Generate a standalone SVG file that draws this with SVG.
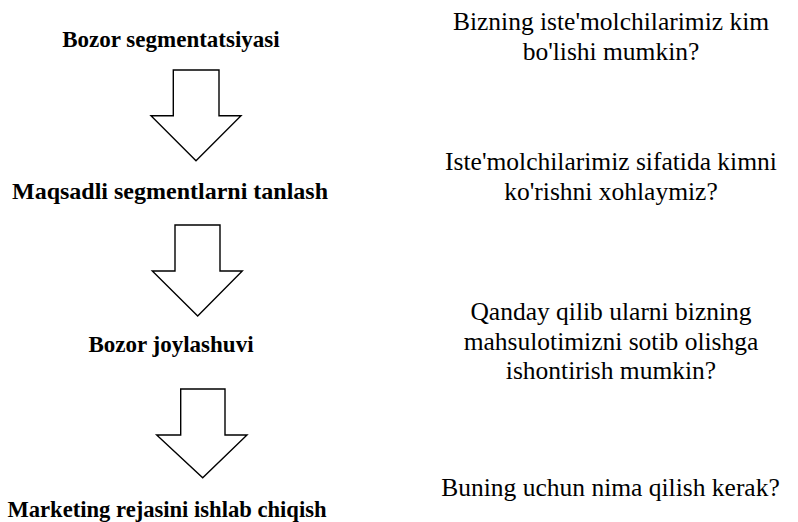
<svg xmlns="http://www.w3.org/2000/svg" width="798" height="522" viewBox="0 0 798 522">
<style>
.lbl{font-family:'Liberation Serif','Times New Roman',serif;font-weight:bold;font-size:23px;fill:#000;text-anchor:middle}
.q{font-family:'Liberation Serif','Times New Roman',serif;font-size:25.5px;fill:#000;text-anchor:middle}
.arr{fill:#fff;stroke:#000;stroke-width:1.4;stroke-linejoin:miter}
</style>
<rect width="798" height="522" fill="#fff"/>
<g id="connectors">
<polygon class="arr" points="173.3,70 219,70 219,115.7 241,115.7 196,160.7 151,115.7 173.3,115.7"/>
<polygon class="arr" points="175,225 220,225 220,271 242.3,271 197.7,316 152.3,271 175,271"/>
<polygon class="arr" points="180.7,389 225,389 225,435 247,435 202.7,477.7 156.7,435 180.7,435"/>
</g>
<g id="node-segmentation"><text class="lbl" x="171" y="47">Bozor segmentatsiyasi</text></g>
<g id="node-targeting"><text class="lbl" x="170" y="198.5" style="font-size:24px">Maqsadli segmentlarni tanlash</text></g>
<g id="node-positioning"><text class="lbl" x="171" y="352">Bozor joylashuvi</text></g>
<g id="node-plan"><text class="lbl" x="167" y="517" style="font-size:22.6px">Marketing rejasini ishlab chiqish</text></g>
<g id="q1"><text class="q" x="611" y="30">Bizning iste'molchilarimiz kim</text><text class="q" x="611" y="59.5">bo'lishi mumkin?</text></g>
<g id="q2"><text class="q" x="611" y="170">Iste'molchilarimiz sifatida kimni</text><text class="q" x="611" y="199.5">ko'rishni xohlaymiz?</text></g>
<g id="q3"><text class="q" x="611" y="319.5">Qanday qilib ularni bizning</text><text class="q" x="611" y="349.5">mahsulotimizni sotib olishga</text><text class="q" x="611" y="379">ishontirish mumkin?</text></g>
<g id="q4"><text class="q" x="610.5" y="496">Buning uchun nima qilish kerak?</text></g>
</svg>
